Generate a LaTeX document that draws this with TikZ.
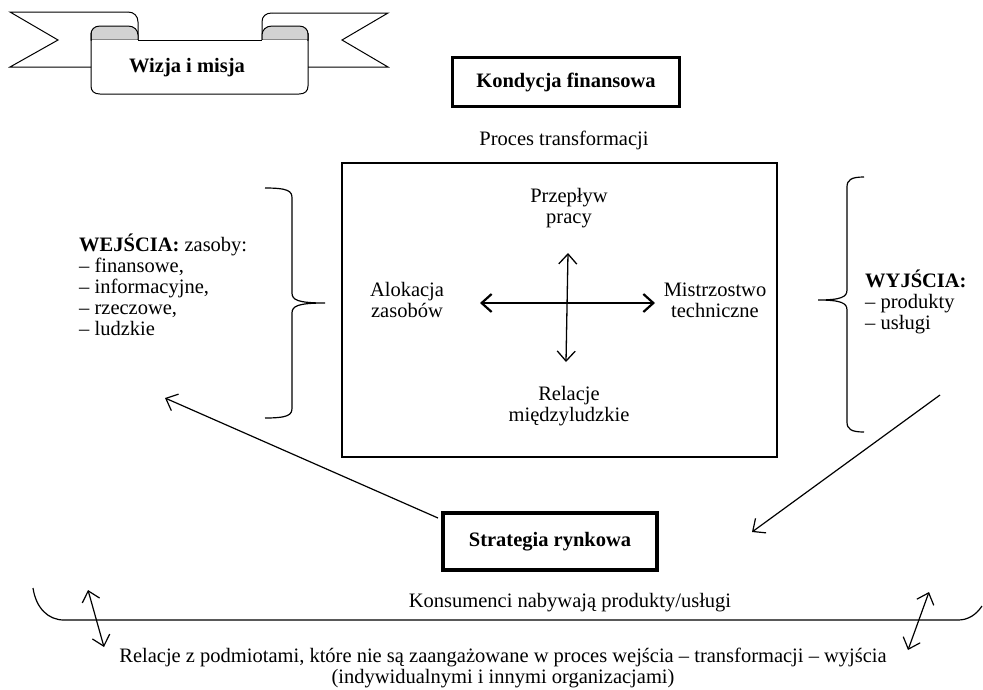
\documentclass[tikz,border=0pt]{standalone}
\usepackage{fontspec}
\setmainfont{Liberation Serif}
\usetikzlibrary{arrows.meta}
\begin{document}
\begin{tikzpicture}[x=1pt,y=-1pt,
  txt/.style={font=\fontsize{20.5}{21}\selectfont, inner sep=0pt, align=center},
  btxt/.style={font=\fontsize{20.5}{21}\selectfont\bfseries, inner sep=0pt, align=center},
  ln/.style={line width=1.2pt},
  tip/.style={-{Straight Barb[length=10pt,width=18pt]}},
  dtip/.style={{Straight Barb[length=10pt,width=18pt]}-{Straight Barb[length=10pt,width=18pt]}},
  curl/.style={line width=1pt, fill=gray!35}
]
\useasboundingbox (0,0) rectangle (983,689);

% banner
\draw[line width=1pt] (128,12) -- (10,12) -- (58,40) -- (10,67) -- (91,67);
\draw[line width=1pt] (128,12) .. controls (134,12) and (138,16) .. (138,22) -- (138,40);
\draw[line width=1pt] (272,13) -- (388,13) -- (342,40) -- (388,67) -- (308,67);
\draw[line width=1pt] (262,40) -- (262,22) .. controls (262,16) and (266,13) .. (272,13);
\filldraw[curl] (91,40) -- (91,34) .. controls (91,30) and (94,26) .. (100,26) -- (128,26) .. controls (134,26) and (138,30) .. (138,35) -- (138,40) -- cycle;
\filldraw[curl] (308,40) -- (308,34) .. controls (308,30) and (305,26) .. (299,26) -- (272,26) .. controls (266,26) and (262,30) .. (262,35) -- (262,40) -- cycle;
\fill[white] (92,40) rectangle (307,93);
\draw[line width=1pt] (91,33) -- (91,86) .. controls (91,91) and (94,94) .. (100,94) -- (299,94) .. controls (305,94) and (308,91) .. (308,86) -- (308,33);
\draw[line width=1pt] (138,40) -- (262,40);
\node[btxt] (wizja) at (187,68) {Wizja i misja};

% boxes
\node[draw, line width=3.5pt, minimum width=227pt, minimum height=49pt, btxt] (kond) at (566,82) {Kondycja finansowa};
\node[txt] (proces) at (564,140) {Proces transformacji};
\node[draw, line width=1.3pt, minimum width=435pt, minimum height=294pt] (box) at (559.5,310) {};
\node[draw, line width=4.5pt, minimum width=214pt, minimum height=57pt, btxt] (strat) at (550,541.5) {Strategia rynkowa};

% inner labels
\node[txt] (przep) at (569,208) {Przepływ\\pracy};
\node[txt] (alok) at (407,300) {Alokacja\\zasobów};
\node[txt] (mistrz) at (715,300) {Mistrzostwo\\techniczne};
\node[txt] (relm) at (569,406) {Relacje\\międzyludzkie};

% cross arrows
\coordinate (hl) at (480,303);
\coordinate (hr) at (655,303);
\coordinate (vt) at (568,253);
\coordinate (vb) at (566,362);
\draw[line width=2.2pt, dtip] (hl) -- (hr);
\draw[line width=1.3pt, dtip] (vt) -- (vb);

% side texts
\node[txt, align=left, anchor=west] (wej) at (79,285) {\textbf{WEJŚCIA:} zasoby:\\– finansowe,\\– informacyjne,\\– rzeczowe,\\– ludzkie};
\node[txt, align=left, anchor=west] (wyj) at (865,302) {\textbf{WYJŚCIA:}\\– produkty\\– usługi};

% braces
\draw[ln] (265,188) .. controls (288,188) and (292,191) .. (292,198) -- (292,293) .. controls (292,300) and (298,303) .. (325,303) .. controls (298,303) and (292,306) .. (292,313) -- (292,408) .. controls (292,415) and (288,418) .. (265,418);
\draw[ln] (864,177) .. controls (851,177) and (847,180) .. (847,187) -- (847,290) .. controls (847,297) and (841,300) .. (818,300) .. controls (841,300) and (847,303) .. (847,310) -- (847,422) .. controls (847,429) and (851,432) .. (864,432);

% diagonal arrows
\coordinate (ls) at (438,518);
\coordinate (le) at (165,398);
\coordinate (rs) at (940,395);
\coordinate (re) at (752,532);
\draw[ln, tip] (ls) -- (le);
\draw[ln, tip] (rs) -- (re);

% bottom
\draw[ln] (33,588) .. controls (36,608) and (48,620) .. (64,620) -- (958,620) .. controls (968,620) and (976,615) .. (982,606);
\node[txt] (kons) at (570,603) {Konsumenci nabywają produkty/usługi};
\node[txt] (rel) at (503,668) {Relacje z podmiotami, które nie są zaangażowane w proces wejścia – transformacji – wyjścia\\(indywidualnymi i innymi organizacjami)};
\coordinate (bl1) at (88,590);
\coordinate (bl2) at (104,647);
\coordinate (br1) at (929,592);
\coordinate (br2) at (908,650);
\draw[ln, dtip] (bl1) -- (bl2);
\draw[ln, dtip] (br1) -- (br2);
\end{tikzpicture}
\end{document}
